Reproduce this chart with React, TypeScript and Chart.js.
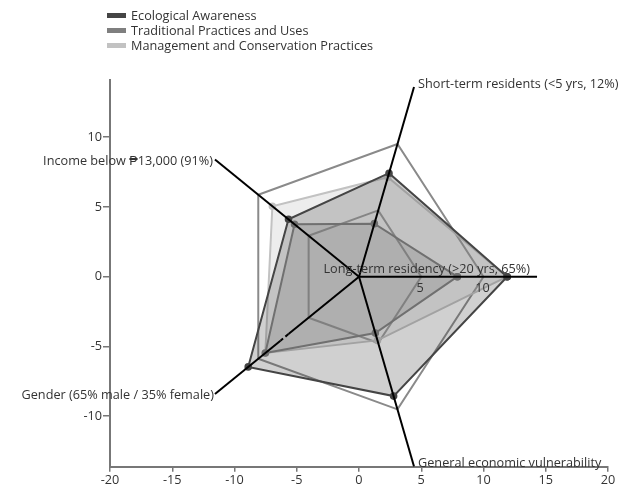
import React, { useEffect, useRef } from 'react';
import { Chart, registerables } from 'chart.js';

Chart.register(...registerables);

// ---- data ----
const axisLabels = [
  'Long-term residency (>20 yrs, 65%)',
  'Short-term residents (<5 yrs, 12%)',
  'Income below ₱13,000 (91%)',
  'Gender (65% male / 35% female)',
  'General economic vulnerability',
];
const seriesNames = [
  'Ecological Awareness',
  'Traditional Practices and Uses',
  'Management and Conservation Practices',
];
const ecological = [11.9, 7.8, 7.0, 11.0, 9.0];
const traditional = [7.9, 4.0, 6.4, 9.3, 4.25];
const management = [11.9, 7.5, 8.6, 9.3, 4.8];
const gridRings = [5, 10];
const radialTicks = [5, 10];
const axisLength = 14.3;
const xTicks = [-20, -15, -10, -5, 0, 5, 10, 15, 20];
const yTicks = [-10, -5, 0, 5, 10];
const xRange = [-20, 20];
const yRange = [-13.62, 14.1];

// ---- styles ----
const seriesColors = ['#454545', '#7f7f7f', '#c2c2c2'];
const seriesFills = ['rgba(69,69,69,0.25)', 'rgba(127,127,127,0.25)', 'rgba(194,194,194,0.3)'];
const labelStyles = [
  { align: 'right', baseline: 'alphabetic', dx: -7, dy: -4 },
  { align: 'left', baseline: 'middle', dx: 4, dy: -3 },
  { align: 'right', baseline: 'middle', dx: -2, dy: 1.5 },
  { align: 'right', baseline: 'middle', dx: -1, dy: 1.5 },
  { align: 'left', baseline: 'middle', dx: 4, dy: -3 },
];
const dashedAxisIndex = 3;
const dashBreaks = [7.0, 7.8];
const FONT = '"Open Sans", sans-serif';
const FSIZE = 12.7;

const angle = (i: number) => (i * 2 * Math.PI) / axisLabels.length;
const pt = (r: number, i: number) => ({ x: r * Math.cos(angle(i)), y: r * Math.sin(angle(i)) });
const polygon = (vals: number[]) => [...vals, vals[0]].map((r, i) => pt(r, i % vals.length));

const overlayPlugin = {
  id: 'overlay',
  afterDraw(chart: any) {
    const { ctx } = chart;
    const xs = chart.scales.x;
    const ys = chart.scales.y;
    ctx.save();
    ctx.font = `${FSIZE}px ${FONT}`;
    ctx.fillStyle = '#333';
    axisLabels.forEach((t, i) => {
      const st = labelStyles[i];
      const p = pt(axisLength, i);
      const px = xs.getPixelForValue(p.x);
      const py = ys.getPixelForValue(p.y);
      ctx.textAlign = st.align;
      ctx.textBaseline = st.baseline;
      ctx.fillText(t, px + st.dx, py + st.dy);
    });
    ctx.textAlign = 'center';
    ctx.textBaseline = 'middle';
    radialTicks.forEach((v) => {
      ctx.fillText(String(v), xs.getPixelForValue(v) - 1, ys.getPixelForValue(0) + 12);
    });
    // legend
    ctx.textAlign = 'left';
    seriesNames.forEach((n, i) => {
      const yy = 16 + i * 15;
      ctx.fillStyle = seriesColors[i];
      ctx.fillRect(107, yy - 3, 19, 5);
      ctx.fillStyle = '#333';
      ctx.fillText(n, 131, yy);
    });
    ctx.restore();
  },
};

export default function App() {
  const ref = useRef<HTMLCanvasElement>(null);
  useEffect(() => {
    if (!ref.current) return;
    const datasets: any[] = [];
    // radial axes (top)
    axisLabels.forEach((_, i) => {
      const dashed = i === dashedAxisIndex;
      const radii = dashed ? [0, ...dashBreaks, axisLength] : [0, axisLength];
      datasets.push({
        data: radii.map((r) => pt(r, i)),
        showLine: true,
        borderColor: '#000',
        borderWidth: 2,
        pointRadius: 0,
        fill: false,
        order: 0,
        segment: dashed
          ? { borderDash: (c: any) => (c.p0DataIndex === 1 ? [4, 3] : undefined) }
          : undefined,
      });
    });
    [ecological, traditional, management].forEach((vals, i) => {
      datasets.push({
        label: seriesNames[i],
        data: polygon(vals),
        showLine: true,
        borderColor: seriesColors[i],
        backgroundColor: seriesFills[i],
        pointBackgroundColor: seriesColors[i],
        pointBorderColor: seriesColors[i],
        borderWidth: 2,
        pointRadius: 2.8,
        fill: 'shape',
        order: 1 + i,
      });
    });
    gridRings.forEach((r) => {
      datasets.push({
        data: polygon(axisLabels.map(() => r)),
        showLine: true,
        borderColor: '#8a8a8a',
        borderWidth: 2,
        pointRadius: 0,
        fill: false,
        order: 10,
      });
    });
    const chart = new Chart(ref.current, {
      type: 'scatter',
      data: { datasets },
      options: {
        animation: false,
        responsive: false,
        events: [],
        layout: { padding: { top: 80, right: 16, left: 0, bottom: 0 } },
        plugins: { legend: { display: false }, tooltip: { enabled: false } },
        scales: {
          x: {
            type: 'linear',
            min: xRange[0],
            max: xRange[1],
            afterBuildTicks: (s: any) => { s.ticks = xTicks.map((v) => ({ value: v })); },
            afterFit: (s: any) => { s.height = 24.3; },
            ticks: { color: '#333', font: { family: FONT, size: FSIZE }, padding: 1 },
            grid: { display: true, drawOnChartArea: false, drawTicks: true, tickLength: 5, color: '#777', lineWidth: 1.5 },
            border: { color: '#777', width: 2 },
          },
          y: {
            type: 'linear',
            min: yRange[0],
            max: yRange[1],
            afterBuildTicks: (s: any) => { s.ticks = yTicks.map((v) => ({ value: v })); },
            afterFit: (s: any) => { s.width = 110; },
            ticks: { color: '#333', font: { family: FONT, size: FSIZE }, padding: 1 },
            grid: { display: true, drawOnChartArea: false, drawTicks: true, tickLength: 7, color: '#777', lineWidth: 1.5 },
            border: { color: '#777', width: 2 },
          },
        },
      },
      plugins: [overlayPlugin],
    });
    return () => chart.destroy();
  }, []);
  return (
    <div style={{ position: 'absolute', left: 0, top: 0, width: 624, height: 491, background: '#fff' }}>
      <canvas ref={ref} width={624} height={491} style={{ width: 624, height: 491, display: 'block' }} />
    </div>
  );
}
